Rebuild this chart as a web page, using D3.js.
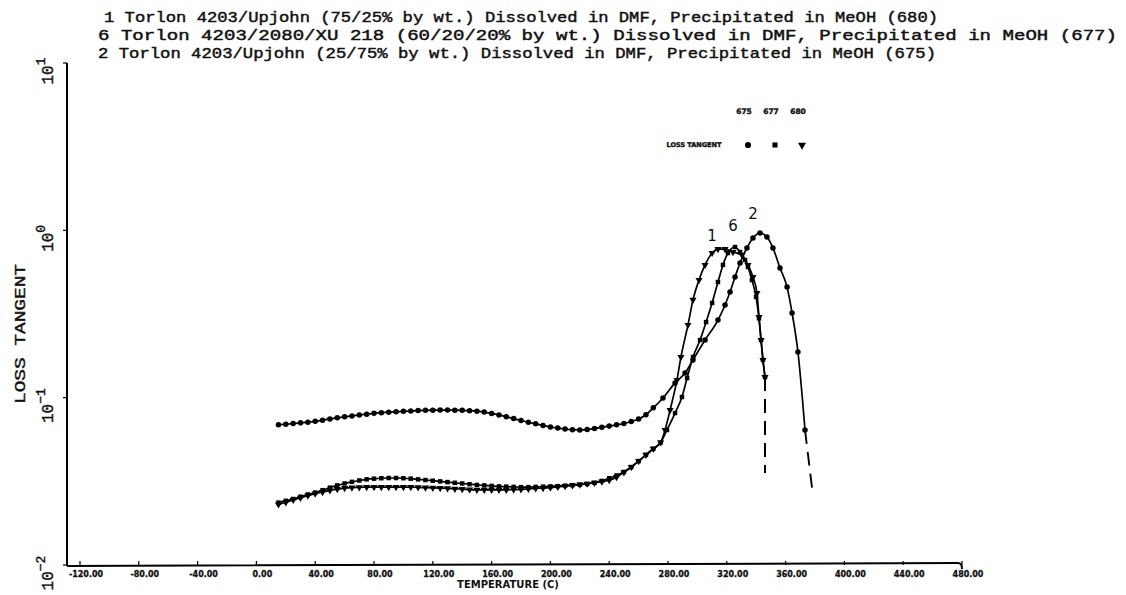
<!DOCTYPE html>
<html><head><meta charset="utf-8">
<script src="https://cdn.jsdelivr.net/npm/d3@7/dist/d3.min.js"></script>
<style>body{margin:0;background:#fff}svg{display:block}</style>
</head><body>
<svg id="c" width="1126" height="595"></svg>
<script>
// ---------- data ----------
const titleLines = [
  "1 Torlon 4203/Upjohn (75/25% by wt.) Dissolved in DMF, Precipitated in MeOH (680)",
  "6 Torlon 4203/2080/XU 218 (60/20/20% by wt.) Dissolved in DMF, Precipitated in MeOH (677)",
  "2 Torlon 4203/Upjohn (25/75% by wt.) Dissolved in DMF, Precipitated in MeOH (675)"
];
const xTicks = [-120,-80,-40,0,40,80,120,160,200,240,280,320,360,400,440,480];
const yTicks = [0.01,0.1,1,10];
const yTickExp = ["\u22122","\u22121","0","1"];
const legendCodes = ["675","677","680"];

// Series 2 (675) circles
const s2Temp = [15,20,25,30,35,40,45,50,55,60,65,70,75,80,85,90,95,100,105,110,115,120,125,130,135,140,145,150,155,160,165,170,175,180,185,190,195,200,205,210,215,220,225,230,235,240,245,250,255,260,265,270,
  276.6,284.8,291.6,297,305.2,314,318.8,322.2,325.6,329,333.7,337.8,342.6,347.3,351.4,356.2,361,364.4,368.4,373.2];
const s2Val = [0.0688,0.0694,0.0700,0.0707,0.0714,0.0722,0.0734,0.0746,0.0758,0.0768,0.0778,0.0788,0.0797,0.0806,0.0813,0.0819,0.0824,0.0829,0.0833,0.0837,0.0840,0.0842,0.0843,0.0843,0.0842,0.0840,0.0836,0.0830,0.0820,0.0805,0.0789,0.0770,0.0750,0.0730,0.0713,0.0698,0.0682,0.0668,0.0658,0.0650,0.0644,0.0641,0.0645,0.0654,0.0666,0.0676,0.0688,0.0700,0.0720,0.0745,0.0790,0.0870,
  0.0995,0.1225,0.1403,0.168,0.221,0.291,0.358,0.428,0.526,0.638,0.784,0.900,0.964,0.912,0.784,0.596,0.458,0.321,0.1875,0.0641];
const s2TailTemp = [373.2,378];
const s2TailVal = [0.0641,0.0288];

// Series 1 (680) triangles
const s1Temp = [15,20,25,30,35,40,45,50,55,60,65,70,75,80,85,90,95,100,105,110,115,120,125,130,135,140,145,150,155,160,165,170,175,180,185,190,195,200,205,210,215,220,225,230,235,240,245,250,255,260,265,270,275,
  278,281.4,286.1,288.8,293.6,297,301.1,305.2,310,314,318.8,324.2,330.3,334.4,337.8,340.5,341.9,343.3,344.6,346];
const s1Val = [0.0230,0.0237,0.0245,0.0252,0.0260,0.0267,0.0273,0.0279,0.0284,0.0288,0.0290,0.0291,0.0292,0.0292,0.0292,0.0292,0.0292,0.0292,0.0292,0.0291,0.0290,0.0289,0.0288,0.0287,0.0285,0.0284,0.0282,0.0281,0.0281,0.0281,0.0281,0.0281,0.0282,0.0283,0.0285,0.0287,0.0288,0.0290,0.0293,0.0296,0.0299,0.0302,0.0306,0.0310,0.0315,0.0321,0.0335,0.0358,0.0385,0.0418,0.0455,0.0495,0.0540,
  0.0641,0.0843,0.1276,0.175,0.272,0.384,0.505,0.621,0.732,0.773,0.773,0.742,0.713,0.621,0.526,0.422,0.303,0.221,0.168,0.1327];
const s1TailTemp = [346,346];
const s1TailVal = [0.1327,0.0355];

// Series 6 (677) squares
const s6Temp = [15,20,25,30,35,40,45,50,55,60,65,70,75,80,85,90,95,100,105,110,115,120,125,130,135,140,145,150,155,160,165,170,175,180,185,190,195,200,205,210,215,220,225,230,235,240,245,250,255,260,265,270,275,
  279.3,284.8,289.5,293,297,301.8,305.9,310,314,317.4,320.8,325.6,329,332.4,334.4,337.1,339.9,341.9,343.3,344.6,346];
const s6Val = [0.0236,0.0242,0.0248,0.0256,0.0264,0.0271,0.0280,0.0290,0.0299,0.0307,0.0314,0.0320,0.0325,0.0328,0.0330,0.0331,0.0331,0.0330,0.0328,0.0325,0.0322,0.0319,0.0316,0.0313,0.0310,0.0307,0.0304,0.0301,0.0299,0.0297,0.0295,0.0294,0.0293,0.0292,0.0292,0.0293,0.0294,0.0295,0.0296,0.0298,0.0300,0.0302,0.0305,0.0310,0.0318,0.0330,0.0343,0.0360,0.0385,0.0418,0.0455,0.0495,0.0540,
  0.0641,0.0809,0.1009,0.131,0.175,0.221,0.283,0.368,0.491,0.621,0.732,0.795,0.742,0.665,0.604,0.505,0.400,0.298,0.221,0.168,0.1327];
const s6TailTemp = [346,346];
const s6TailVal = [0.1327,0.0355];

const peakLabels = ["1","6","2"];
const peakTemp = [310,324.2,337.8];
const peakVal = [0.925,1.06,1.25];

// ---------- drawing ----------
const svg = d3.select("#c");
const x = d3.scaleLinear().domain([-120,480]).range([80,962]);
const y = d3.scaleLog().domain([0.01,10]).range([565,63]);
const mono = "'Liberation Mono','DejaVu Sans Mono',monospace";
const ink = "#111";

// title
const titleX = [104,98,98], titleW = [834,1019,838], titleY = [22,40,58];
titleLines.forEach((t,i)=>{
  svg.append("text").attr("x",titleX[i]).attr("y",titleY[i])
    .attr("font-family",mono).attr("font-size",14.5)
    .attr("stroke",ink).attr("stroke-width",0.45)
    .attr("textLength",titleW[i]).attr("lengthAdjust","spacingAndGlyphs")
    .attr("fill",ink).text(t);
});

// axes lines
const ax = svg.append("g").attr("stroke","#000").attr("stroke-width",2).attr("fill","none");
ax.append("line").attr("x1",67).attr("x2",67).attr("y1",63).attr("y2",566);
ax.append("path").attr("d",`M67,566 L958,563 Q962,563 962,569`);

// x ticks
xTicks.forEach(t=>{
  svg.append("line").attr("x1",x(t)).attr("x2",x(t)).attr("y1",565).attr("y2",561)
    .attr("stroke","#000").attr("stroke-width",1.2);
  svg.append("text").attr("x",x(t)+6).attr("y",577).attr("text-anchor","middle")
    .attr("font-family","'DejaVu Sans',sans-serif").attr("font-size",8).attr("font-weight","bold")
    .attr("stroke",ink).attr("stroke-width",0.3)
    .attr("fill",ink).text(t.toFixed(2));
});
svg.append("text").attr("x",508).attr("y",588).attr("text-anchor","middle")
  .attr("font-family","'DejaVu Sans',sans-serif").attr("font-size",10).attr("font-weight","bold")
  .attr("fill",ink).text("TEMPERATURE (C)");

// y ticks
yTicks.forEach((v,i)=>{
  svg.append("line").attr("x1",63).attr("x2",67).attr("y1",y(v)).attr("y2",y(v))
    .attr("stroke","#000").attr("stroke-width",1.2);
  const t = svg.append("text").attr("transform",`translate(53,${y(v)+8}) rotate(-90)`)
    .attr("text-anchor","middle").attr("font-family",mono)
    .attr("font-size",16).attr("stroke",ink).attr("stroke-width",0.4).attr("fill",ink);
  t.append("tspan").text("10");
  t.append("tspan").attr("dy",-8).attr("font-size",13).text(yTickExp[i]);
});
svg.append("text").attr("transform","translate(25,334) rotate(-90)").attr("text-anchor","middle")
  .attr("font-family",mono).attr("font-size",15).attr("fill",ink)
  .attr("stroke",ink).attr("stroke-width",0.4)
  .attr("textLength",140).attr("lengthAdjust","spacingAndGlyphs").text("LOSS TANGENT");

// series
const line = d3.line().x(d=>x(d[0])).y(d=>y(d[1])).curve(d3.curveMonotoneX);
const zip = (a,b)=>a.map((t,i)=>[t,b[i]]);
const series = [
  {t:s2Temp,v:s2Val,tt:s2TailTemp,tv:s2TailVal,m:"circle"},
  {t:s6Temp,v:s6Val,tt:s6TailTemp,tv:s6TailVal,m:"square"},
  {t:s1Temp,v:s1Val,tt:s1TailTemp,tv:s1TailVal,m:"tri"}
];
const sym = {circle:d3.symbolCircle, square:d3.symbolSquare, tri:d3.symbolTriangle};
const symSize = {circle:24, square:20, tri:22};
series.forEach(s=>{
  const d = zip(s.t,s.v);
  svg.append("path").attr("d",line(d)).attr("fill","none").attr("stroke","#000").attr("stroke-width",1.7);
  svg.append("path").attr("d",d3.line().x(p=>x(p[0])).y(p=>y(p[1]))(zip(s.tt,s.tv)))
    .attr("fill","none").attr("stroke","#000").attr("stroke-width",1.9).attr("stroke-dasharray","14,8");
  svg.append("g").selectAll("path").data(d).join("path")
    .attr("transform",p=>`translate(${x(p[0])},${y(p[1])})${s.m==="tri"?" rotate(180)":""}`)
    .attr("d",d3.symbol().type(sym[s.m]).size(symSize[s.m])).attr("fill","#000");
});

// peak labels
peakLabels.forEach((l,i)=>{
  svg.append("text").attr("x",x(peakTemp[i])).attr("y",y(peakVal[i])+5).attr("text-anchor","middle")
    .attr("font-family","'DejaVu Sans',sans-serif").attr("font-size",15).attr("fill",ink).text(l);
});

// legend
const legX = [748,775,802];
svg.append("text").attr("x",694).attr("y",147).attr("text-anchor","middle")
  .attr("font-family","'DejaVu Sans',sans-serif").attr("font-size",6.5).attr("font-weight","bold")
  .attr("stroke",ink).attr("stroke-width",0.4)
  .attr("fill",ink).text("LOSS TANGENT");
legendCodes.forEach((c,i)=>{
  svg.append("text").attr("x",legX[i]-4).attr("y",114).attr("text-anchor","middle")
    .attr("font-family","'DejaVu Sans',sans-serif").attr("font-size",7.5).attr("font-weight","bold")
    .attr("stroke",ink).attr("stroke-width",0.4)
    .attr("fill",ink).text(c);
  const m = series[i].m;
  svg.append("path").attr("transform",`translate(${legX[i]},145)${m==="tri"?" rotate(180)":""}`)
    .attr("d",d3.symbol().type(sym[m]).size(symSize[m]+6)).attr("fill","#000");
});
</script>
</body></html>
